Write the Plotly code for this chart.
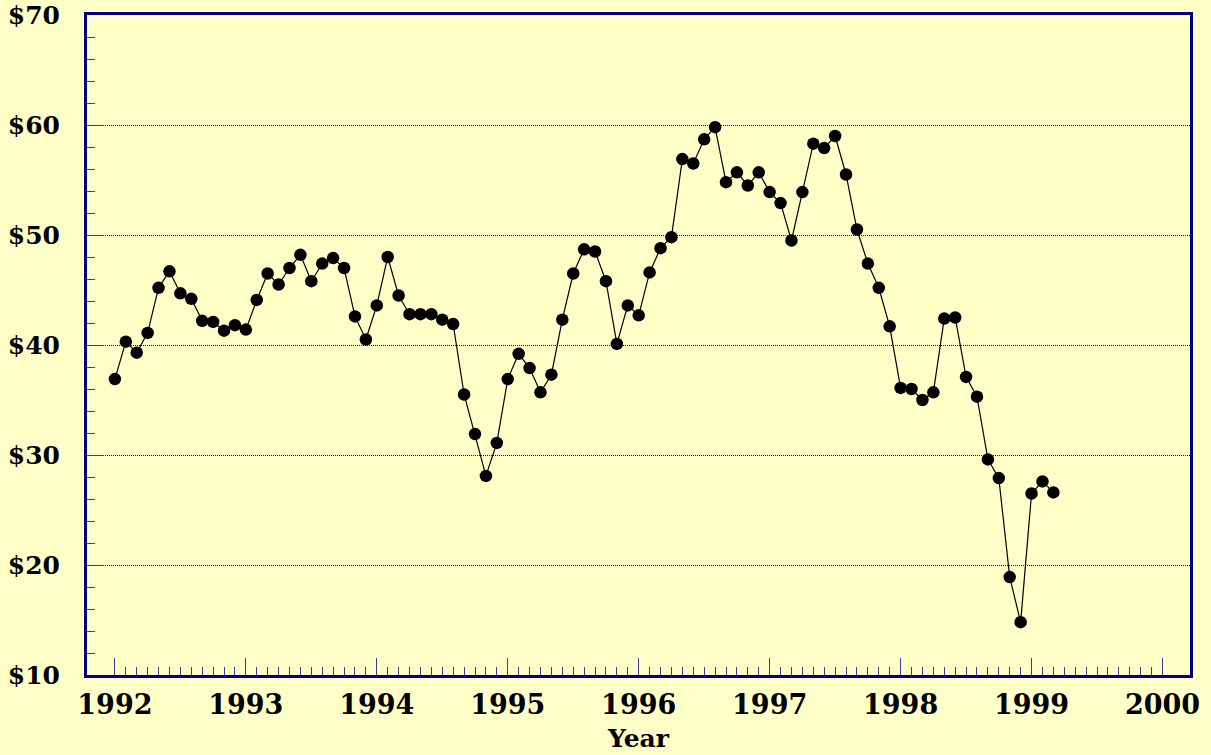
import plotly.graph_objects as go

start_year = 1992
prices = [36.9, 40.3, 39.3, 41.1, 45.2, 46.7, 44.7, 44.2, 42.2, 42.1, 41.3, 41.8,
          41.4, 44.1, 46.5, 45.5, 47.0, 48.2, 45.8, 47.4, 47.9, 47.0, 42.6, 40.5,
          43.6, 48.0, 44.5, 42.8, 42.8, 42.8, 42.3, 41.9, 35.5, 31.9, 28.1, 31.1,
          36.9, 39.2, 37.9, 35.7, 37.3, 42.3, 46.5, 48.7, 48.5, 45.8, 40.1, 43.6,
          42.7, 46.6, 48.8, 49.8, 56.9, 56.5, 58.7, 59.8, 54.8, 55.7, 54.5, 55.7,
          53.9, 52.9, 49.5, 53.9, 58.3, 57.9, 59.0, 55.5, 50.5, 47.4, 45.2, 41.7,
          36.1, 36.0, 35.0, 35.7, 42.4, 42.5, 37.1, 35.3, 29.6, 27.9, 18.9, 14.8,
          26.5, 27.6, 26.6]
months = [start_year + i / 12 for i in range(len(prices))]

year_ticks = list(range(1992, 2001))
month_ticks = [y + m / 12 for y in range(1992, 2000) for m in range(1, 12)]
price_ticks = list(range(10, 71, 10))
price_minor = [v for v in range(12, 70, 2) if v % 10]

bg = "#FFFFC8"
navy = "#000080"
gridc = "#0000FF"
tickc = "#3a3aa0"
font_family = "DejaVu Serif"

fig = go.Figure()
fig.add_trace(go.Scatter(
    x=months, y=prices, mode="lines+markers",
    line=dict(color="black", width=1.2),
    marker=dict(color="black", size=12.5),
    showlegend=False, hoverinfo="skip",
))

fig.update_layout(
    width=1211, height=755,
    paper_bgcolor=bg, plot_bgcolor=bg,
    margin=dict(l=87, r=21, t=15, b=80),
    font=dict(family=font_family, color="black"),
    xaxis=dict(
        range=[1991.787, 2000.21],
        tickmode="array", tickvals=year_ticks, ticktext=[str(y) for y in year_ticks],
        ticks="inside", ticklen=17, tickwidth=1.2, tickcolor=tickc,
        minor=dict(tickmode="array", tickvals=month_ticks, ticks="inside", ticklen=8,
                   tickwidth=1.2, tickcolor=tickc, showgrid=False),
        showgrid=False, zeroline=False, automargin=False,
        showline=True, linecolor=navy, linewidth=3, mirror=True,
        tickfont=dict(size=27, family=font_family, weight="bold"),
        title=dict(text="<b>Year</b>", font=dict(size=25, family=font_family), standoff=11),
        ticklabelstandoff=4,
    ),
    yaxis=dict(
        range=[10, 70],
        tickmode="array", tickvals=price_ticks, ticktext=["$%d" % v for v in price_ticks],
        ticks="inside", ticklen=17, tickwidth=1.2, tickcolor=tickc,
        minor=dict(tickmode="array", tickvals=price_minor, ticks="inside", ticklen=8,
                   tickwidth=1.2, tickcolor=tickc, showgrid=False),
        showgrid=True, gridcolor=gridc, griddash="1px,1px", gridwidth=1,
        zeroline=False, automargin=False,
        showline=True, linecolor=navy, linewidth=3, mirror=True,
        tickfont=dict(size=25, family=font_family, weight="bold"),
        ticklabelstandoff=19,
    ),
)

fig.write_html(
    "out.html",
    config={"displayModeBar": False},
    post_script="document.body.style.margin='0';document.body.style.background='%s';" % bg,
)
